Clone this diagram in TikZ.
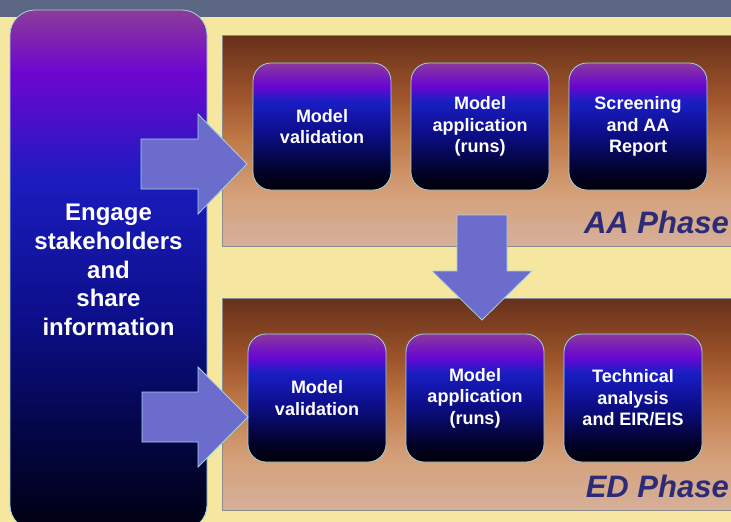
\documentclass[tikz,border=0pt]{standalone}
\usepackage{fontspec}
\setmainfont{Liberation Sans}

\definecolor{bgyellow}{HTML}{F5E6A0}
\definecolor{topband}{HTML}{5A6682}
\definecolor{arrowfill}{HTML}{6C6CCC}
\definecolor{edgecyan}{HTML}{A4D4E0}
\definecolor{panelgray}{HTML}{8C8C8C}
\definecolor{phasenavy}{HTML}{2B2B78}

% box colours, bottom to top
\definecolor{sA}{HTML}{000008}
\definecolor{sB}{HTML}{02022A}
\definecolor{sC}{HTML}{0C0E8A}
\definecolor{sD}{HTML}{1A1EC4}
\definecolor{sE}{HTML}{6A06D2}
\definecolor{sF}{HTML}{8A3A9C}
% engage box
\definecolor{eA}{HTML}{000010}
\definecolor{eB}{HTML}{04064A}
\definecolor{eC}{HTML}{0C0E88}
\definecolor{eD}{HTML}{1A1CBE}
\definecolor{eE}{HTML}{6E06D0}
\definecolor{eF}{HTML}{8C3C98}
% phase panels
\definecolor{pA}{HTML}{D6B09A}
\definecolor{pB}{HTML}{D4A07A}
\definecolor{pC}{HTML}{C07A48}
\definecolor{pD}{HTML}{A0562C}
\definecolor{pE}{HTML}{66301A}

\pgfdeclareverticalshading{stageshade}{100bp}{color(0bp)=(sA); color(25bp)=(sA);
  color(32.5bp)=(sB); color(47.5bp)=(sC); color(60bp)=(sD); color(66bp)=(sE);
  color(75bp)=(sF); color(100bp)=(sF)}
\pgfdeclareverticalshading{engageshade}{100bp}{color(0bp)=(eA); color(25bp)=(eA);
  color(35bp)=(eB); color(45bp)=(eC); color(58.5bp)=(eD); color(69bp)=(eE);
  color(75bp)=(eF); color(100bp)=(eF)}
\pgfdeclareverticalshading{phaseshade}{100bp}{color(0bp)=(pA); color(25bp)=(pA);
  color(37.5bp)=(pB); color(50bp)=(pC); color(60bp)=(pD);
  color(75bp)=(pE); color(100bp)=(pE)}

\tikzset{
  panel/.style={rectangle, draw=panelgray, line width=0.8pt, shade, shading=phaseshade,
    minimum width=520pt, inner sep=0pt},
  stage/.style={rectangle, rounded corners=18pt, draw=edgecyan, line width=0.8pt,
    shade, shading=stageshade, minimum width=138pt, minimum height=127pt,
    inner sep=0pt, align=center, text=white,
    font=\fontsize{18}{21.6}\selectfont\bfseries},
  bigarrow/.style={fill=arrowfill, draw=edgecyan, line width=0.8pt, line join=miter},
  phaselabel/.style={anchor=base east, inner sep=0pt, text=phasenavy,
    font=\fontsize{31}{36}\selectfont\bfseries\itshape}
}

\begin{document}
\begin{tikzpicture}[x=1pt, y=-1pt]
    \useasboundingbox (0,0) rectangle (731,522);
    \fill[bgyellow] (0,0) rectangle (731,522);
    \fill[topband] (0,0) rectangle (731,17);

    % Phase panels
    \node[panel, minimum height=211pt] at (482,140.5) (aaPanel) {};
    \node[panel, minimum height=212pt] at (482,404)   (edPanel) {};

    % Engage box
    \node[stage, shading=engageshade, rounded corners=25pt, minimum width=197pt,
          minimum height=520pt, font=\fontsize{24}{28.8}\selectfont\bfseries]
          at (108.5,270) (engage) {Engage\\stakeholders\\and\\share\\information};

    % AA phase
    \node[stage] at (322,126.5) (aaVal)    {Model\\validation};
    \node[stage] at (480,126.5) (aaRun)    {Model\\application\\(runs)};
    \node[stage] at (638,126.5) (aaReport) {Screening\\and AA\\Report};
    \node[phaselabel] at (729,233) (aaLabel) {AA Phase};

    % ED phase
    \node[stage, minimum height=128pt] at (317,398) (edVal)  {Model\\validation};
    \node[stage, minimum height=128pt] at (475,398) (edRun)  {Model\\application\\(runs)};
    \node[stage, minimum height=128pt] at (633,398) (edTech) {Technical\\analysis\\and EIR/EIS};
    \node[phaselabel] at (729,497) (edLabel) {ED Phase};

    % Block arrows
    \draw[bigarrow] (141,139) -- (198,139) -- (198,114) -- (247,164)
                    -- (198,214) -- (198,189) -- (141,189) -- cycle;
    \draw[bigarrow] (142,392) -- (198,392) -- (198,367) -- (248,417)
                    -- (198,467) -- (198,442) -- (142,442) -- cycle;
    \draw[bigarrow] (457,215) -- (507,215) -- (507,271) -- (532,271)
                    -- (482,320) -- (432,271) -- (457,271) -- cycle;
\end{tikzpicture}
\end{document}
